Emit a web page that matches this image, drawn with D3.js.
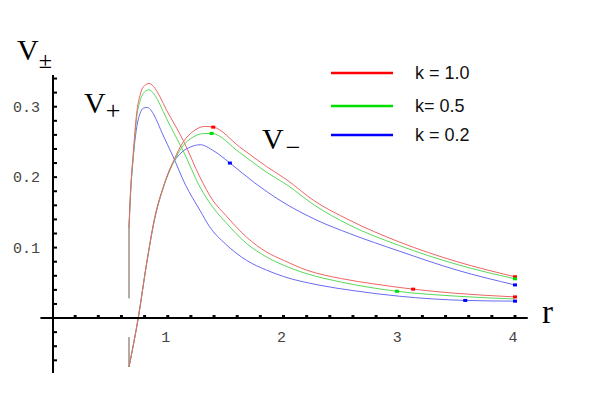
<!DOCTYPE html>
<html>
<head>
<meta charset="utf-8">
<script src="https://cdn.jsdelivr.net/npm/d3@7"></script>
<style>
  html, body { margin: 0; padding: 0; background: #fff; }
  svg { display: block; }
</style>
</head>
<body>
<svg id="chart"></svg>
<script>
// --- data: [r, V] ---
const seriesKeys = ['k = 1.0', 'k= 0.5', 'k = 0.2'];

const vPlusK10 = [[0.665,0.128],[0.680,0.184],[0.702,0.234],[0.731,0.290],[0.760,0.316],[0.789,0.328],[0.840,0.333],[0.890,0.326],[0.933,0.314],[0.990,0.295],[1.062,0.274],[1.134,0.252],[1.278,0.200],[1.39,0.167],[1.5,0.146],[1.68,0.115],[1.85,0.094],[2.0,0.082],[2.2,0.068],[2.5,0.056],[2.8,0.048],[3.12,0.041],[3.5,0.035],[4.0,0.030]];
const vPlusK05 = [[0.665,0.128],[0.680,0.182],[0.702,0.230],[0.731,0.284],[0.760,0.308],[0.789,0.319],[0.835,0.324],[0.890,0.316],[0.933,0.303],[0.990,0.283],[1.062,0.260],[1.134,0.237],[1.278,0.186],[1.4,0.155],[1.5,0.136],[1.68,0.106],[1.85,0.087],[2.0,0.075],[2.2,0.063],[2.5,0.051],[2.98,0.038],[3.5,0.031],[4.0,0.027]];
const vPlusK02 = [[0.665,0.128],[0.680,0.180],[0.702,0.228],[0.731,0.270],[0.760,0.290],[0.789,0.298],[0.823,0.299],[0.860,0.294],[0.900,0.282],[0.950,0.263],[1.047,0.229],[1.150,0.190],[1.278,0.153],[1.36,0.130],[1.5,0.105],[1.68,0.082],[1.854,0.068],[2.0,0.059],[2.3,0.047],[2.6,0.039],[3.0,0.031],[3.57,0.025],[4.0,0.024]];

const vMinusK10 = [[0.665,-0.0695],[0.745,0],[0.818,0.078],[0.889,0.144],[0.961,0.186],[1.047,0.222],[1.134,0.250],[1.22,0.265],[1.32,0.272],[1.393,0.271],[1.62,0.243],[1.854,0.215],[2.03,0.196],[2.26,0.167],[2.57,0.139],[3.0,0.108],[3.5,0.080],[4.0,0.0586]];
const vMinusK05 = [[0.665,-0.0695],[0.745,0],[0.818,0.078],[0.889,0.143],[0.961,0.185],[1.047,0.220],[1.134,0.245],[1.22,0.257],[1.32,0.262],[1.379,0.262],[1.62,0.235],[1.854,0.207],[2.03,0.189],[2.26,0.161],[2.57,0.132],[3.0,0.103],[3.5,0.076],[4.0,0.0557]];
const vMinusK02 = [[0.665,-0.0695],[0.745,0],[0.818,0.078],[0.889,0.142],[0.961,0.185],[1.02,0.212],[1.10,0.232],[1.20,0.243],[1.28,0.246],[1.40,0.237],[1.537,0.220],[1.75,0.192],[1.97,0.167],[2.3,0.138],[2.57,0.120],[3.0,0.095],[3.5,0.068],[4.0,0.047]];

// steep grey branch at the inner edge
const innerBranch = [[[0.665,0.128],[0.665,0.028]], [[0.665,-0.027],[0.665,-0.0695]]];

// small marks sitting on the curves
const markersK10 = [[1.393,0.271],[4.0,0.0586],[3.12,0.041],[4.0,0.030]];
const markersK05 = [[1.379,0.262],[4.0,0.0557],[2.98,0.038]];
const markersK02 = [[1.537,0.220],[4.0,0.047],[3.57,0.025],[4.0,0.024]];

const xTickLabels = [1, 2, 3, 4];
const yTickLabels = [0.1, 0.2, 0.3];

const width = 596, height = 410;

const svg = d3.select('#chart')
    .attr('width', width)
    .attr('height', height)
    .attr('viewBox', `0 0 ${width} ${height}`);

const xScale = d3.scaleLinear().domain([0, 4]).range([52, 515]);
const yScale = d3.scaleLinear().domain([-0.078, 0.345]).range([373, 75]);

const lineColor = d3.scaleOrdinal().domain(seriesKeys).range(['#f06464', '#5ad85a', '#6a6af2']);
const markColor = d3.scaleOrdinal().domain(seriesKeys).range(['#ff0000', '#00e000', '#0000ff']);

const line = d3.line()
    .x(d => xScale(d[0]))
    .y(d => yScale(d[1]))
    .curve(d3.curveMonotoneX);

// grey inner branch
svg.append('g')
    .selectAll('line')
    .data(innerBranch)
    .join('line')
    .attr('x1', d => xScale(d[0][0]))
    .attr('x2', d => xScale(d[1][0]))
    .attr('y1', d => yScale(d[0][1]))
    .attr('y2', d => yScale(d[1][1]))
    .attr('stroke', '#b4aba2')
    .attr('stroke-width', 2);

// curves
const curves = [
    { key: 'k = 0.2', values: vPlusK02 },
    { key: 'k= 0.5', values: vPlusK05 },
    { key: 'k = 1.0', values: vPlusK10 },
    { key: 'k = 0.2', values: vMinusK02 },
    { key: 'k= 0.5', values: vMinusK05 },
    { key: 'k = 1.0', values: vMinusK10 },
];

svg.append('g')
    .selectAll('path')
    .data(curves)
    .join('path')
    .attr('d', d => line(d.values))
    .attr('fill', 'none')
    .attr('stroke', d => lineColor(d.key))
    .attr('stroke-width', 1);

const marks = [
    ...markersK10.map(p => ({ key: 'k = 1.0', p })),
    ...markersK05.map(p => ({ key: 'k= 0.5', p })),
    ...markersK02.map(p => ({ key: 'k = 0.2', p })),
];

svg.append('g')
    .selectAll('rect')
    .data(marks)
    .join('rect')
    .attr('x', d => xScale(d.p[0]) - 2)
    .attr('y', d => yScale(d.p[1]) - 1.5)
    .attr('width', 4)
    .attr('height', 3)
    .attr('fill', d => markColor(d.key));

// axes (Mathematica style: crossing at origin)
const axes = svg.append('g');

axes.append('line')
    .attr('x1', xScale(-0.1)).attr('x2', xScale(4.11))
    .attr('y1', yScale(0)).attr('y2', yScale(0))
    .attr('stroke', '#000').attr('stroke-width', 2);

axes.append('line')
    .attr('x1', xScale(0) + 1).attr('x2', xScale(0) + 1)
    .attr('y1', yScale(0.345)).attr('y2', yScale(-0.078))
    .attr('stroke', '#000').attr('stroke-width', 2);

const xMinor = d3.range(1, 21).map(i => i * 0.2);
axes.append('g')
    .selectAll('rect')
    .data(xMinor)
    .join('rect')
    .attr('x', d => xScale(d) - 1.5)
    .attr('y', yScale(0) - 3)
    .attr('width', 3)
    .attr('height', 2)
    .attr('fill', '#000');

const yMinor = d3.range(-3, 18).filter(i => i !== 0).map(i => i * 0.02);
axes.append('g')
    .selectAll('rect')
    .data(yMinor)
    .join('rect')
    .attr('x', xScale(0) + 2)
    .attr('y', d => yScale(d) - 1)
    .attr('width', 3)
    .attr('height', 2)
    .attr('fill', '#000');

axes.append('g')
    .selectAll('text')
    .data(xTickLabels)
    .join('text')
    .attr('x', d => xScale(d) - 2)
    .attr('y', yScale(0) + 24)
    .attr('text-anchor', 'middle')
    .attr('font-family', '"Liberation Mono", monospace')
    .attr('font-size', '15px')
    .attr('fill', '#444')
    .text(d => d);

axes.append('g')
    .selectAll('text')
    .data(yTickLabels)
    .join('text')
    .attr('x', 40)
    .attr('y', d => yScale(d) + 5)
    .attr('text-anchor', 'end')
    .attr('font-family', '"Liberation Mono", monospace')
    .attr('font-size', '15px')
    .attr('fill', '#444')
    .text(d => d3.format('.1f')(d));

// axis / curve labels
const serif = '"Liberation Serif", serif';

const vpm = svg.append('text').attr('x', 17).attr('y', 60)
    .attr('font-family', serif).attr('font-size', '30px').attr('fill', '#000');
vpm.append('tspan').text('V');
vpm.append('tspan').attr('dy', 8).attr('font-size', '24px').text('±');

const vp = svg.append('text').attr('x', 84).attr('y', 113)
    .attr('font-family', serif).attr('font-size', '30px').attr('fill', '#000');
vp.append('tspan').text('V');
vp.append('tspan').attr('dy', 6).attr('font-size', '26px').text('+');

const vm = svg.append('text').attr('x', 262).attr('y', 149)
    .attr('font-family', serif).attr('font-size', '30px').attr('fill', '#000');
vm.append('tspan').text('V');
vm.append('tspan').attr('dy', 7).attr('dx', 2).attr('font-size', '26px').text('−');

svg.append('text').attr('x', 542).attr('y', 323)
    .attr('font-family', serif).attr('font-size', '33px').attr('fill', '#000')
    .text('r');

// legend
const legendY = [73, 106, 135];
const legend = svg.append('g')
    .selectAll('g')
    .data(seriesKeys)
    .join('g')
    .attr('transform', (d, i) => `translate(0,${legendY[i]})`);

legend.append('line')
    .attr('x1', 331).attr('x2', 393)
    .attr('y1', 0).attr('y2', 0)
    .attr('stroke', d => markColor(d))
    .attr('stroke-width', 2.5);

legend.append('text')
    .attr('x', 415)
    .attr('y', 6)
    .attr('font-family', '"Liberation Sans", Arial, sans-serif')
    .attr('font-size', '18px')
    .attr('fill', '#111')
    .text(d => d);
</script>
</body>
</html>
